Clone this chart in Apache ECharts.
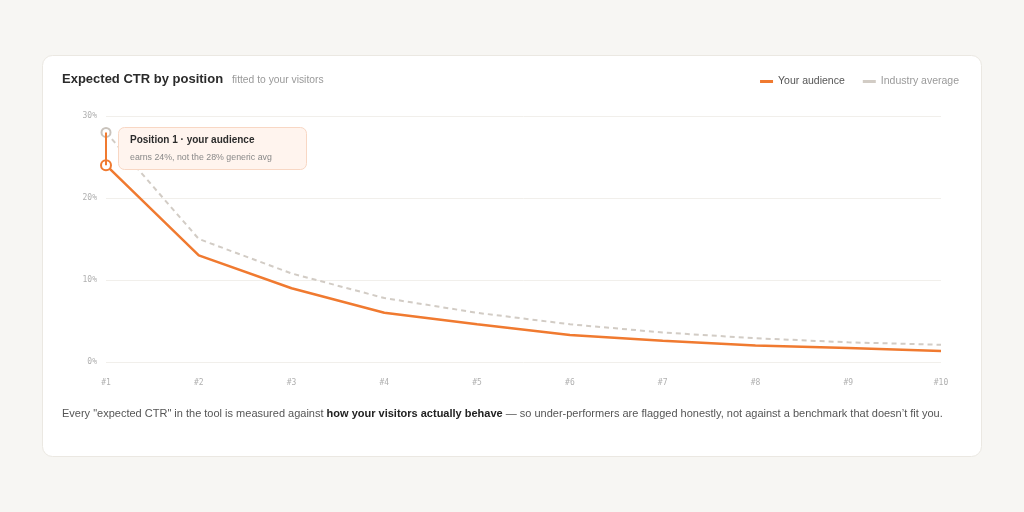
<!DOCTYPE html>
<html>
<head>
<meta charset="utf-8">
<script src="https://cdn.jsdelivr.net/npm/echarts@6/dist/echarts.min.js"></script>
<style>
html,body{margin:0;padding:0;background:#f7f6f3;}
#c{width:1024px;height:512px;}
</style>
</head>
<body>
<div id="c"></div>
<script>
const positions = ['#1','#2','#3','#4','#5','#6','#7','#8','#9','#10'];
const yourAudience = [24, 13, 9, 6.0, 4.6, 3.3, 2.6, 2.0, 1.7, 1.35];
const industryAverage = [28, 15, 10.8, 7.8, 6.0, 4.6, 3.6, 2.9, 2.4, 2.1];
const yTicks = [0, 10, 20, 30];

const FONT = '"Liberation Sans", Arial, Helvetica, sans-serif';
const MONO = '"DejaVu Sans Mono", monospace';
const ORANGE = '#f07a30';
const GREY = '#d2ccc5';

const chart = echarts.init(document.getElementById('c'), null, {renderer:'canvas'});
chart.setOption({
  backgroundColor: '#f7f6f3',
  animation: false,
  textStyle: {fontFamily: FONT},
  grid: {left: 106, right: 83, top: 116, bottom: 150, containLabel: false},
  legend: {
    right: 60, top: 71,
    itemWidth: 13, itemHeight: 3, itemGap: 18,
    icon: 'rect',
    textStyle: {fontSize: 10.5, fontFamily: FONT},
    data: [
      {name: 'Your audience', textStyle: {color: '#555'}, itemStyle: {color: ORANGE, borderWidth: 0}},
      {name: 'Industry average', textStyle: {color: '#9a9a9a'}, itemStyle: {color: GREY, borderWidth: 0}}
    ]
  },
  xAxis: {
    type: 'category', data: positions, boundaryGap: false,
    axisLine: {show: false}, axisTick: {show: false},
    axisLabel: {color: '#b0b0b0', fontFamily: MONO, fontSize: 8, margin: 17}
  },
  yAxis: {
    type: 'value', min: yTicks[0], max: yTicks[yTicks.length-1], interval: 10,
    axisLine: {show: false}, axisTick: {show: false},
    axisLabel: {color: '#b0b0b0', fontFamily: MONO, fontSize: 8, margin: 9, formatter: '{value}%'},
    splitLine: {lineStyle: {color: '#f1efeb', width: 1}}
  },
  series: [
    {
      name: 'Industry average', type: 'line', data: industryAverage,
      color: GREY,
      symbol: 'emptyCircle',
      showSymbol: true, showAllSymbol: true,
      symbolSize: (v, p) => p.dataIndex === 0 ? 9 : 0,
      itemStyle: {color: '#c9c3bc', borderWidth: 2},
      lineStyle: {color: GREY, width: 2, type: [5, 4]},
      z: 2
    },
    {
      name: 'Your audience', type: 'line', data: yourAudience,
      color: ORANGE,
      symbol: 'emptyCircle',
      showSymbol: true, showAllSymbol: true,
      symbolSize: (v, p) => p.dataIndex === 0 ? 10 : 0,
      itemStyle: {color: ORANGE, borderWidth: 2.5},
      lineStyle: {color: ORANGE, width: 2.5},
      z: 3,
      markLine: {
        silent: true, symbol: 'none', label: {show: false},
        lineStyle: {color: ORANGE, width: 2, type: 'solid'},
        data: [[{coord: [positions[0], yourAudience[0]]}, {coord: [positions[0], industryAverage[0]]}]]
      }
    }
  ],
  graphic: [
    {type: 'rect', z: -10, shape: {x: 42.5, y: 55.5, width: 939, height: 401, r: 10},
     style: {fill: '#ffffff', stroke: '#ebe8e2', lineWidth: 1}},
    {type: 'text', left: 62, top: 73, z: 5,
     style: {text: 'Expected CTR by position', fill: '#2b2b2b', font: 'bold 13px ' + FONT}},
    {type: 'text', left: 232, top: 75, z: 5,
     style: {text: 'fitted to your visitors', fill: '#999', font: '10.3px ' + FONT}},
    {type: 'rect', z: 10, shape: {x: 118.5, y: 127.5, width: 188, height: 42, r: 6},
     style: {fill: '#fff4ee', stroke: '#f8d7c4', lineWidth: 1}},
    {type: 'text', left: 130, top: 135, z: 11,
     style: {text: 'Position 1 · your audience', fill: '#2b2b2b', font: 'bold 10px ' + FONT}},
    {type: 'text', left: 130, top: 153, z: 11,
     style: {text: 'earns 24%, not the 28% generic avg', fill: '#888', font: '8.8px ' + FONT}},
    {type: 'text', left: 62, top: 408, z: 5,
     style: {
       text: 'Every "expected CTR" in the tool is measured against {b|how your visitors actually behave} — so under-performers are flagged honestly, not against a benchmark that doesn’t fit you.',
       fill: '#555', font: '11px ' + FONT,
       rich: {b: {fontWeight: 'bold', fill: '#222', fontSize: 11, fontFamily: FONT}}
     }}
  ]
});
</script>
</body>
</html>
